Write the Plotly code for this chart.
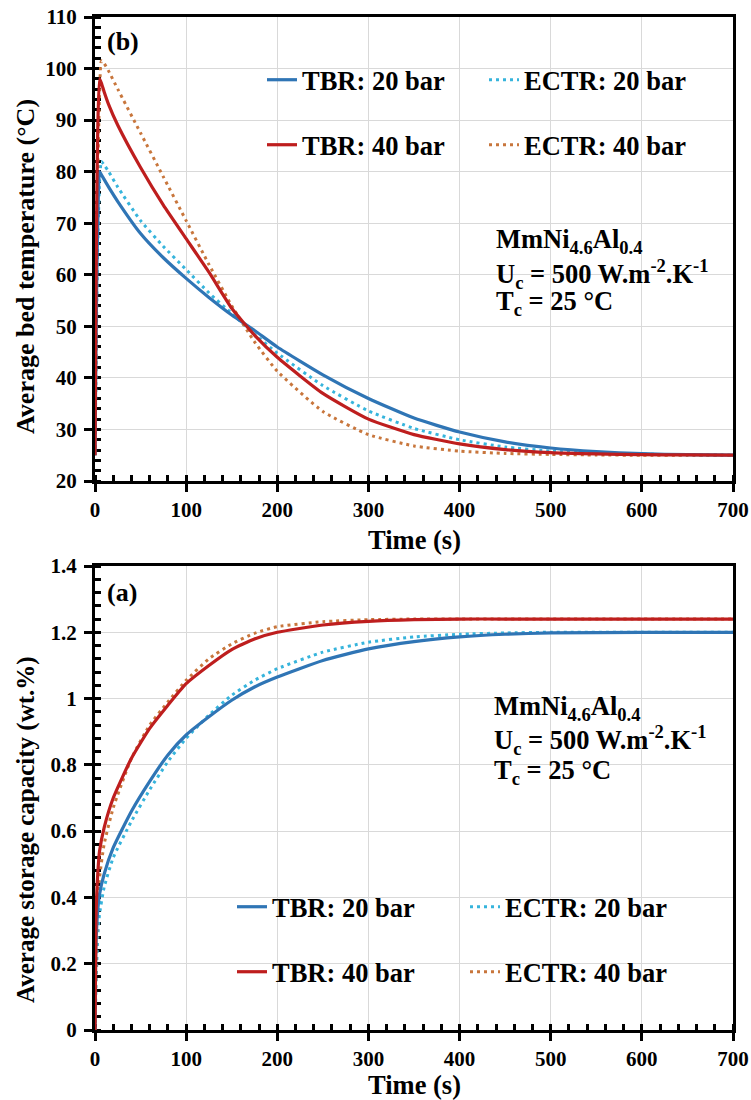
import plotly.graph_objects as go

# ---------------- data ----------------
t_temp = [0, 1, 2, 3, 5, 7, 10, 15, 25, 50, 75, 100, 125, 150, 175, 200, 250, 300, 350, 400, 450, 500, 550, 600, 650, 700]
T_tbr20 = [25, 45, 60, 70, 80, 79.4, 78.5, 77, 74.2, 68, 63.3, 59.3, 55.6, 52.2, 49.2, 46, 40.6, 36, 32.2, 29.5, 27.6, 26.4, 25.7, 25.3, 25.1, 25.0]
T_ectr20 = [25, 40, 55, 66, 78, 82, 81.3, 80, 77, 70.5, 65.5, 61, 56.5, 52.5, 48.5, 44.8, 38.5, 33.6, 30.2, 28, 26.6, 25.8, 25.4, 25.2, 25.1, 25.0]
T_tbr40 = [25, 55, 75, 88, 98, 97.2, 95.5, 93, 89, 80.8, 73.5, 67, 60.5, 53.5, 48.3, 44, 37, 32, 29, 27.2, 26.1, 25.5, 25.25, 25.1, 25.05, 25.0]
T_ectr40 = [25, 45, 65, 80, 95, 101.5, 101, 99.5, 96, 87.5, 79, 70.5, 62, 54, 47, 41.3, 33.5, 29, 26.8, 25.8, 25.35, 25.15, 25.05, 25.0, 25.0, 25.0]

t_cap = [0, 1, 3, 5, 10, 20, 40, 60, 80, 100, 125, 150, 175, 200, 250, 300, 350, 400, 450, 500, 600, 700]
W_tbr20 = [0, 0.25, 0.36, 0.41, 0.47, 0.55, 0.66, 0.75, 0.83, 0.89, 0.945, 0.995, 1.035, 1.065, 1.115, 1.15, 1.172, 1.186, 1.194, 1.198, 1.2, 1.2]
W_ectr20 = [0, 0.12, 0.28, 0.35, 0.43, 0.52, 0.63, 0.725, 0.81, 0.88, 0.95, 1.01, 1.055, 1.09, 1.14, 1.17, 1.186, 1.194, 1.198, 1.2, 1.2, 1.2]
W_tbr40 = [0, 0.33, 0.47, 0.54, 0.61, 0.70, 0.82, 0.91, 0.98, 1.045, 1.10, 1.148, 1.18, 1.20, 1.222, 1.233, 1.238, 1.24, 1.24, 1.24, 1.24, 1.24]
W_ectr40 = [0, 0.18, 0.38, 0.46, 0.56, 0.67, 0.82, 0.92, 0.99, 1.055, 1.12, 1.165, 1.197, 1.217, 1.232, 1.238, 1.24, 1.24, 1.24, 1.24, 1.24, 1.24]

series_names = ["TBR: 20 bar", "TBR: 40 bar", "ECTR: 20 bar", "ECTR: 40 bar"]
x_ticks = [0, 100, 200, 300, 400, 500, 600, 700]
y1_ticks = [20, 30, 40, 50, 60, 70, 80, 90, 100, 110]
y2_ticks = [0, 0.2, 0.4, 0.6, 0.8, 1.0, 1.2, 1.4]
y2_ticktext = ["0", "0.2", "0.4", "0.6", "0.8", "1", "1.2", "1.4"]

# ---------------- styling ----------------
FONT = "Liberation Serif"
W, H = 751, 1100
ML, MR, MT, MB = 95, 18, 17, 70
PW, PH = W - ML - MR, H - MT - MB


def px2x(px):
    return (px - ML) / PW


def py2y(py):
    return (H - MB - py) / PH


styles = {
    "TBR: 20 bar": dict(color="#2F75B5", width=3.2, dash="solid"),
    "TBR: 40 bar": dict(color="#BE1E1E", width=3.2, dash="solid"),
    "ECTR: 20 bar": dict(color="#36B4DC", width=3, dash="3px,4px"),
    "ECTR: 40 bar": dict(color="#C8763C", width=3, dash="3px,4px"),
}

fig = go.Figure()

top_data = {"TBR: 20 bar": T_tbr20, "TBR: 40 bar": T_tbr40, "ECTR: 20 bar": T_ectr20, "ECTR: 40 bar": T_ectr40}
bot_data = {"TBR: 20 bar": W_tbr20, "TBR: 40 bar": W_tbr40, "ECTR: 20 bar": W_ectr20, "ECTR: 40 bar": W_ectr40}

# legend positions (pixel) : name -> (swatch_left_px, row_center_py)
top_leg = {"TBR: 20 bar": (268, 80), "TBR: 40 bar": (268, 145), "ECTR: 20 bar": (490, 80), "ECTR: 40 bar": (490, 145)}
bot_leg = {"TBR: 20 bar": (238, 907), "TBR: 40 bar": (238, 972), "ECTR: 20 bar": (471, 907), "ECTR: 40 bar": (471, 972)}

legend_layouts = {}
k = 1
draw_order = ["ECTR: 20 bar", "ECTR: 40 bar", "TBR: 20 bar", "TBR: 40 bar"]
for panel, data, tvals, legpos, xa, ya in [
    ("top", top_data, t_temp, top_leg, "x", "y"),
    ("bot", bot_data, t_cap, bot_leg, "x2", "y2"),
]:
    for name in draw_order:
        lname = "legend" if k == 1 else f"legend{k}"
        fig.add_trace(go.Scatter(
            x=tvals, y=data[name], mode="lines", name=name,
            line=dict(color=styles[name]["color"], width=styles[name]["width"],
                      dash=styles[name]["dash"], shape="spline", smoothing=0.5),
            xaxis=xa, yaxis=ya, legend=lname, showlegend=True,
        ))
        sx, sy = legpos[name]
        legend_layouts[lname] = dict(
            x=px2x(sx - 6), y=py2y(sy), xanchor="left", yanchor="middle",
            bgcolor="rgba(0,0,0,0)", borderwidth=0,
            font=dict(family=FONT, size=26.5, color="black", weight="bold"),
            itemwidth=30, tracegroupgap=0,
        )
        k += 1

axis_common = dict(
    showline=True, linecolor="black", linewidth=3, mirror=True,
    showgrid=True, gridcolor="#D9D9D9", gridwidth=1,
    ticks="outside", ticklen=8, tickwidth=3, tickcolor="black",
    tickfont=dict(family=FONT, size=21, color="black", weight="bold"),
    zeroline=False, layer="below traces", automargin=False,
)

fig.update_layout(
    width=W, height=H,
    margin=dict(l=ML, r=MR, t=MT, b=MB),
    paper_bgcolor="white", plot_bgcolor="white",
    xaxis=dict(domain=[0, 1], anchor="y", range=[0, 700], tickvals=x_ticks,
               minor=dict(dtick=20, ticks="inside", ticklen=6, tickwidth=3, tickcolor="black", showgrid=False),
               **axis_common),
    yaxis=dict(domain=[py2y(481), 1], anchor="x", range=[20, 110], tickvals=y1_ticks, ticklabelstandoff=3,
               minor=dict(dtick=2, ticks="inside", ticklen=6, tickwidth=3, tickcolor="black", showgrid=False),
               **axis_common),
    xaxis2=dict(domain=[0, 1], anchor="y2", range=[0, 700], tickvals=x_ticks,
                minor=dict(dtick=20, ticks="inside", ticklen=6, tickwidth=3, tickcolor="black", showgrid=False),
                **axis_common),
    yaxis2=dict(domain=[0, py2y(566)], anchor="x2", range=[0, 1.4], tickvals=y2_ticks, ticktext=y2_ticktext,
                ticklabelstandoff=3,
                minor=dict(dtick=0.04, ticks="inside", ticklen=6, tickwidth=3, tickcolor="black", showgrid=False),
                **axis_common),
    showlegend=True,
    **legend_layouts,
)


def afont(size):
    return dict(family=FONT, size=size, color="black", weight="bold")


annots = []
# axis titles
annots.append(dict(text="Average bed temperature (°C)", x=px2x(26), y=py2y(267), textangle=-90, font=afont(26)))
annots.append(dict(text="Average storage capacity (wt.%)", x=px2x(26), y=py2y(830), textangle=-90, font=afont(25)))
annots.append(dict(text="Time (s)", x=px2x(415), y=py2y(540), font=afont(26.5)))
annots.append(dict(text="Time (s)", x=px2x(415), y=py2y(1085), font=afont(26.5)))
# panel labels
annots.append(dict(text="(b)", x=px2x(123), y=py2y(41), font=afont(26)))
annots.append(dict(text="(a)", x=px2x(122), y=py2y(592), font=afont(26)))
for a in annots:
    a.update(xref="paper", yref="paper", showarrow=False, xanchor="center", yanchor="middle")

info_lines = ["MmNi<sub>4.6</sub>Al<sub>0.4</sub>",
              "U<sub>c</sub> = 500 W.m<sup>-2</sup>.K<sup>-1</sup>",
              "T<sub>c</sub> = 25 °C"]
for xl, ys in [(494, [241, 274, 303]), (492, [708, 740, 772])]:
    for txt, yy in zip(info_lines, ys):
        annots.append(dict(text=txt, x=px2x(xl), y=py2y(yy), xref="paper", yref="paper",
                           showarrow=False, font=afont(26.5), xanchor="left", yanchor="middle", align="left"))

fig.update_layout(annotations=annots)
fig.write_html("out.html", config={"displayModeBar": False},
               post_script="document.body.style.margin='0px';document.body.style.overflow='hidden';")
